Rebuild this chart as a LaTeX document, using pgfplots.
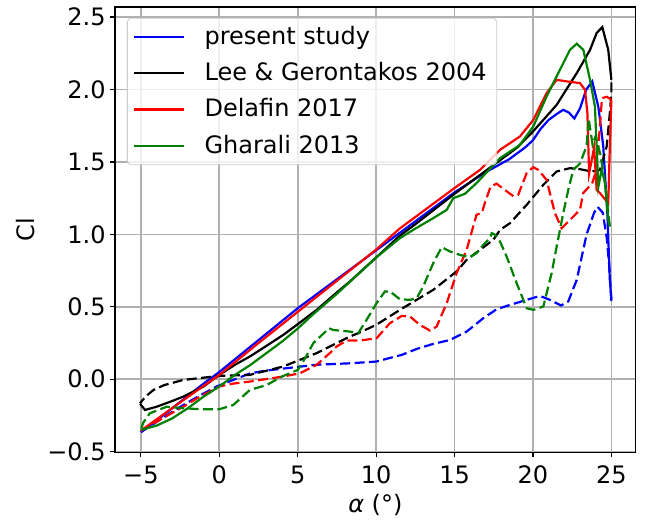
\documentclass[border=0pt]{standalone}
\usepackage{pgfplots}
\pgfplotsset{compat=1.18}
\usepackage{fontspec}
\setmainfont{DejaVu Sans}
\definecolor{mplgreen}{rgb}{0,0.5,0}
\definecolor{gridgray}{HTML}{B0B0B0}
\definecolor{leggray}{HTML}{CCCCCC}
\begin{document}
\fontsize{12}{14.4}\selectfont
\begin{tikzpicture}
\begin{axis}[
  scale only axis,
  width=260.35pt, height=222.65pt,
  xmin=-6.65, xmax=26.55, ymin=-0.505, ymax=2.569,
  xtick={-5,0,5,10,15,20,25},
  xticklabels={−5,0,5,10,15,20,25},
  ytick={-0.5,0,0.5,1,1.5,2,2.5},
  yticklabels={−0.5,0.0,0.5,1.0,1.5,2.0,2.5},
  tick align=outside, major tick length=2.5pt,
  tick style={black, line width=0.6pt},
  xtick pos=bottom, ytick pos=left,
  axis line style={line width=0.6pt},
  grid=major,
  major grid style={gridgray, line width=0.8pt},
  tick label style={font=\fontsize{12}{14.4}\selectfont},
  yticklabel style={xshift=2pt},
  xlabel={\textit{α} (°)},
  ylabel={Cl},
  label style={font=\fontsize{12}{14.4}\selectfont},
  xlabel style={at={(axis description cs:0.5,0)}, anchor=center, yshift=-26.5pt},
  ylabel style={at={(axis description cs:0,0.5)}, anchor=center, yshift=44.5pt},
  legend style={at={(0.023,0.976)}, anchor=north west, draw=leggray, fill=white, fill opacity=0.8, text opacity=1, rounded corners=2pt, font=\fontsize{12}{14.4}\selectfont, row sep=3.2pt, inner xsep=3pt, inner ysep=2pt,
    /tikz/every odd column/.append style={column sep=7.5pt}},
  legend cell align=left,
  legend image code/.code={\draw[#1, line width=1.1pt] (0pt,0pt) -- (25pt,0pt);},
  every axis plot/.append style={line width=1.1pt},
]
% ---- present study ----
\addplot[blue] coordinates {
(-5,-0.365) (-4,-0.285) (-3,-0.2) (-2,-0.115) (-1,-0.03) (0,0.05) (2.5,0.27) (5,0.49) (7.5,0.69) (10,0.89) (11.5,1.01) (12.5,1.09) (15,1.29) (16,1.36) (17,1.43) (18,1.49) (18.5,1.52) (19,1.56) (19.5,1.6) (20,1.65) (20.5,1.73) (21,1.79) (21.5,1.83) (21.93,1.86) (22.3,1.84) (22.64,1.80) (23,1.87) (23.4,2.0) (23.78,2.056) (24.17,1.88) (24.48,1.61) (24.74,1.15) (24.9,0.69) (25,0.55)
};
\addlegendentry{present study}
\addplot[blue, dash pattern=on 5pt off 2.2pt, forget plot] coordinates {
(25,0.54) (24.85,0.8) (24.7,0.98) (24.45,1.15) (24.12,1.19) (23.9,1.15) (23.42,1.0) (22.79,0.686) (22.25,0.537) (21.79,0.509) (21.08,0.548) (20.45,0.575) (19.6,0.548) (18.53,0.513) (17.68,0.483) (16.83,0.421) (15.77,0.329) (14.71,0.271) (13.64,0.244) (12.58,0.209) (11.63,0.168) (10,0.122) (8.33,0.11) (6.2,0.10) (5,0.085) (3,0.06) (1.95,0.04) (1,0.0) (-0.17,-0.05) (-1.2,-0.11) (-2.3,-0.178) (-3.79,-0.28) (-5,-0.365)
};
% ---- Lee & Gerontakos ----
\addplot[black] coordinates {
(-5.05,-0.17) (-4.74,-0.212) (-4,-0.19) (-3,-0.15) (-2.3,-0.12) (-1,-0.05) (0,0.03) (1,0.1) (1.95,0.157) (3,0.23) (4.08,0.306) (5,0.38) (6.2,0.478) (7.5,0.6) (8.33,0.675) (10,0.84) (11.5,0.99) (12.5,1.07) (15,1.28) (17.5,1.48) (19,1.6) (20,1.71) (21.51,1.894) (22.79,2.113) (23.64,2.274) (24.06,2.39) (24.42,2.431) (24.8,2.274) (25,2.067)
};
\addlegendentry{Lee \& Gerontakos 2004\hspace{5pt}}
\addplot[black, dash pattern=on 5pt off 2.2pt, forget plot] coordinates {
(25,2.05) (25,1.975) (24.9,1.837) (24.7,1.607) (24.27,1.445) (23.74,1.434) (23.0,1.45) (22.36,1.457) (21.51,1.434) (20.66,1.342) (19.6,1.204) (18.53,1.077) (17.9,1.031) (17.47,0.962) (16.62,0.893) (15.77,0.824) (15.13,0.744) (13.64,0.617) (11.52,0.479) (10,0.375) (8.86,0.318) (8.33,0.295) (6.2,0.18) (4.08,0.088) (1.95,0.03) (0,0.023) (-2.3,-0.005) (-3.5,-0.04) (-4.2,-0.074) (-4.7,-0.12) (-5.06,-0.166)
};
% ---- Delafin ----
\addplot[red] coordinates {
(-5,-0.355) (-2.5,-0.16) (0,0.03) (2.5,0.25) (5,0.465) (7.5,0.68) (10,0.895) (11.5,1.04) (12.5,1.12) (15,1.32) (16.62,1.445) (17.9,1.584) (19.17,1.676) (20.02,1.79) (20.87,1.975) (21.51,2.067) (22.15,2.056) (23.0,2.044) (23.32,1.998) (23.47,1.837) (23.58,1.42) (23.9,1.6) (24.06,1.307) (24.27,1.285) (24.8,1.215) (24.9,1.6) (25,1.93)
};
\addlegendentry{Delafin 2017}
\addplot[red, dash pattern=on 5pt off 2.2pt, forget plot] coordinates {
(25,1.93) (24.7,1.95) (24.4,1.94) (24.2,1.65) (24.0,1.43) (23.8,1.36) (23.5,1.32) (23.2,1.285) (23.0,1.17) (22.36,1.10) (21.83,1.043) (21.4,1.146) (20.87,1.376) (20.34,1.445) (20.02,1.464) (19.6,1.423) (19.06,1.273) (18.75,1.264) (18.2,1.307) (17.68,1.35) (17.3,1.33) (16.94,1.22) (16.75,1.15) (16.4,1.135) (15.77,0.893) (15.13,0.732) (14.5,0.525) (13.86,0.364) (13.43,0.336) (12.79,0.375) (12.16,0.433) (11.63,0.437) (10.88,0.387) (10.03,0.283) (8.97,0.267) (8.12,0.267) (7.48,0.226) (7.27,0.202) (6.2,0.099) (5.14,0.041) (4.08,0.019) (1.95,-0.016) (0.89,-0.03) (0,-0.05) (-1.24,-0.12) (-2.3,-0.19) (-3.79,-0.28) (-5,-0.355)
};
% ---- Gharali ----
\addplot[mplgreen] coordinates {
(-5,-0.35) (-4,-0.32) (-3,-0.27) (-2,-0.2) (-1,-0.12) (0,-0.05) (1,0.03) (2,0.1) (3,0.18) (4,0.26) (5,0.35) (6,0.45) (7.5,0.59) (10,0.84) (11.52,0.974) (12.5,1.04) (13.64,1.112) (14.5,1.169) (14.92,1.25) (15.66,1.28) (16.4,1.354) (17.9,1.526) (19.17,1.618) (20.02,1.745) (20.87,1.952) (21.72,2.136) (22.36,2.274) (22.79,2.316) (23.21,2.274) (23.64,2.067) (23.95,1.883) (24.06,1.607) (24.17,1.33) (24.38,1.445) (24.59,1.36) (24.8,1.1) (24.9,1.055)
};
\addlegendentry{Gharali 2013}
\addplot[mplgreen, dash pattern=on 5pt off 2.2pt, forget plot] coordinates {
(24.9,1.055) (24.6,1.35) (24.3,1.55) (24.0,1.68) (23.8,1.62) (23.55,1.80) (23.42,1.61) (23.0,1.49) (22.57,1.445) (22.25,1.307) (21.93,1.146) (21.72,1.031) (21.51,0.916) (21.19,0.732) (20.66,0.502) (20.34,0.49) (20.02,0.479) (19.6,0.49) (18.96,0.663) (18.32,0.847) (17.9,0.951) (17.58,0.997) (17.37,1.008) (17.26,0.974) (16.83,0.928) (16.4,0.87) (15.98,0.843) (15.34,0.858) (14.71,0.882) (14.18,0.912) (13.64,0.801) (13.0,0.64) (12.58,0.559) (12.16,0.548) (11.52,0.552) (10.88,0.606) (10.56,0.606) (10.03,0.525) (9.39,0.41) (8.86,0.318) (8.33,0.329) (7.27,0.34) (7.0,0.352) (6.0,0.25) (5.5,0.15) (5,0.064) (4,0.019) (3.02,-0.04) (1.95,-0.074) (0.89,-0.178) (0,-0.207) (-1.24,-0.207) (-2.3,-0.2) (-3.36,-0.19) (-4.43,-0.235) (-4.85,-0.30) (-5,-0.35)
};
\end{axis}
\path ([shift={(-57.5pt,-33.85pt)}]current axis.south west) rectangle ([shift={(9.15pt,2pt)}]current axis.north east);
\end{tikzpicture}
\end{document}
